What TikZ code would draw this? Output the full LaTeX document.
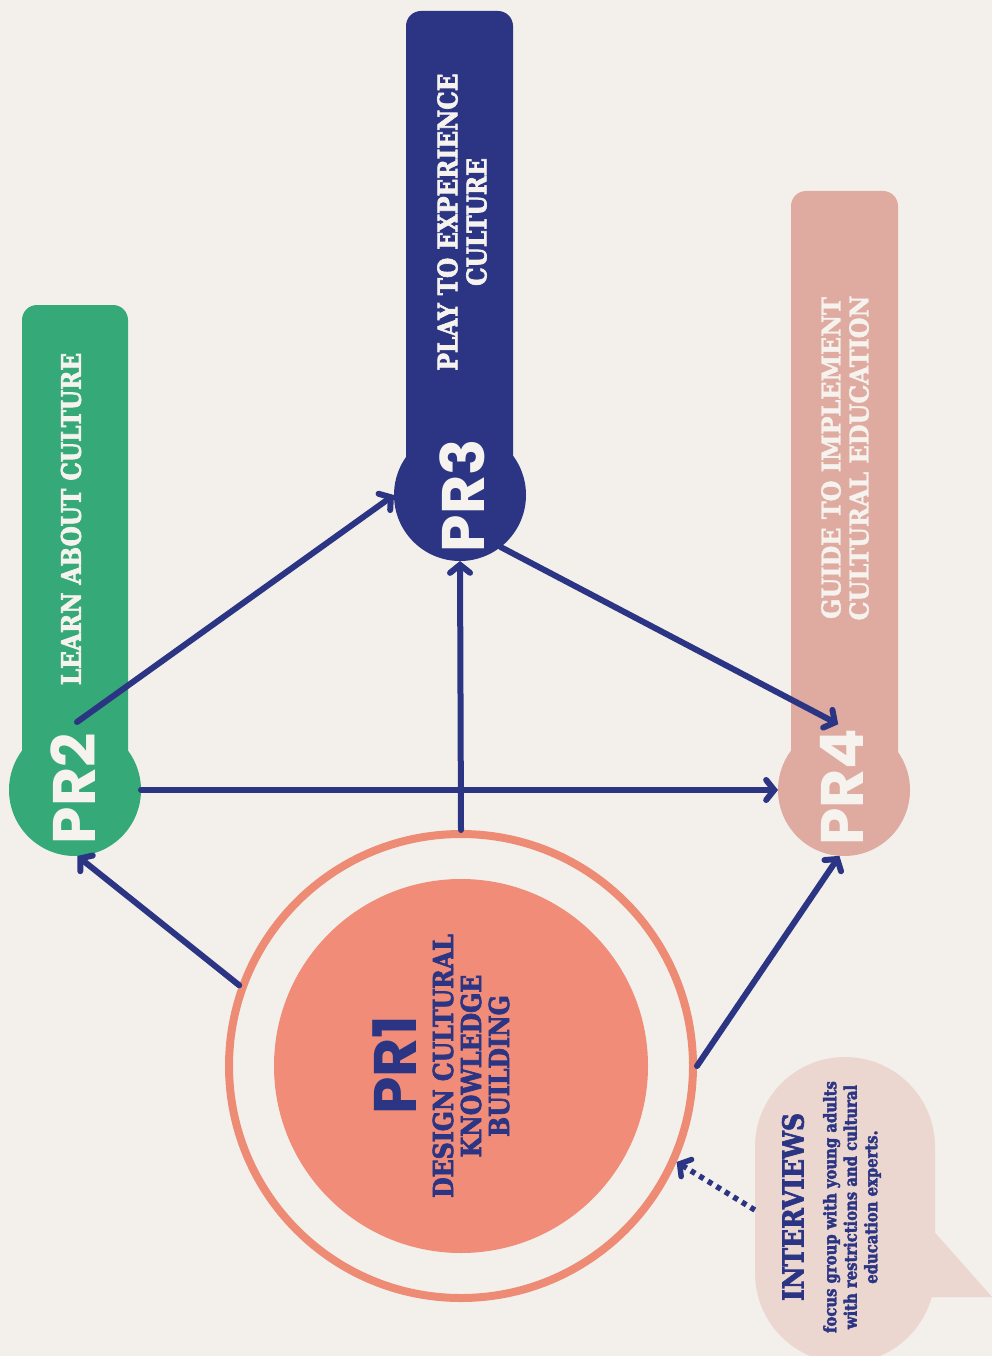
\documentclass[tikz,border=0pt]{standalone}
\usepackage{fontspec}
\usetikzlibrary{arrows.meta}
\newfontfamily\slab[FakeStretch=0.86, BoldFont={DejaVu Serif Bold}, BoldFeatures={FakeStretch=0.86, FakeBold=2.5}]{DejaVu Serif}
\newfontfamily\slabc[FakeStretch=0.92, BoldFont={DejaVu Serif Bold}, BoldFeatures={FakeStretch=0.92, FakeBold=1.5}]{DejaVu Serif}
\newfontfamily\pops{Poppins}
\definecolor{bg}{HTML}{F3F0EB}
\definecolor{navy}{HTML}{2B3583}
\definecolor{grn}{HTML}{35A978}
\definecolor{pnk}{HTML}{DFABA1}
\definecolor{salm}{HTML}{F08C77}
\definecolor{ring}{HTML}{EE8B75}
\definecolor{bubl}{HTML}{EBD6D0}
\definecolor{wht}{HTML}{F6F3EF}
\tikzset{
  prcirc/.style={circle, minimum size=132pt, inner sep=0pt, outer sep=0pt},
  bar/.style={rounded corners=15pt},
  prlabel/.style={rotate=90, inner sep=0pt, font=\pops\bfseries\fontsize{60}{60}\selectfont},
  title/.style={rotate=90, inner sep=0pt, align=center, text=wht, font=\slab\bfseries\fontsize{27}{29}\selectfont},
  arr/.style={draw=navy, line width=6pt, line cap=round, -{Straight Barb[length=8pt,width=20pt,line cap=round]}},
  dotarr/.style={draw=navy, line width=5.5pt, dash pattern=on 5pt off 5pt, -{Straight Barb[length=8pt,width=20pt,line cap=round]}}
}
\begin{document}
\begin{tikzpicture}[x=1pt,y=-1pt]
\fill[bg] (0,0) rectangle (992,1356);
\useasboundingbox (0,0) rectangle (992,1356);

% bars
\fill[grn, bar] (22,305) rectangle (128,790);
\fill[navy, bar] (406,11) rectangle (513,495);
\fill[pnk, bar] (791,191) rectangle (898,790);

% PR circles
\node[prcirc, fill=grn] (pr2) at (75,790) {};
\node[prcirc, fill=navy] (pr3) at (460,495) {};
\node[prcirc, fill=pnk] (pr4) at (844,790) {};

% PR1
\node[circle, draw=ring, line width=8pt, minimum size=464pt, inner sep=0pt, outer sep=4pt] (pr1o) at (461,1066) {};
\node[circle, fill=salm, minimum size=374pt, inner sep=0pt] (pr1) at (461,1066) {};

% bubble
\node[fill=bubl, rounded corners=90pt, minimum width=180pt, minimum height=306pt, inner sep=0pt] (bubble) at (845,1210) {};
\fill[bubl] (930,1227) -- (992,1297) -- (920,1297) -- cycle;

% arrows
\coordinate (pr2s) at (77,722);
\draw[arr] (pr2s) -- (pr3.west);
\draw[arr] (pr1o.north) -- (pr3.south);
\draw[arr] (pr3.-52) -- (pr4.95);
\draw[arr] (pr2.east) -- (pr4.west);
\draw[arr] (pr1o.160) -- (pr2.-88);
\draw[arr] (pr1o.east) -- (pr4.-94);
\draw[dotarr] (bubble.west) -- (pr1o.-24);

% labels
\node[prlabel, text=wht] (l2) at (73,789) {PR2};
\node[prlabel, text=wht] (l3) at (462,496) {PR3};
\node[prlabel, text=wht] (l4) at (842,787) {PR4};
\node[prlabel, text=navy] (l1) at (395,1065) {PR1};

\node[title] (t2) at (71,519) {LEARN ABOUT CULTURE};
\node[title] (t3) at (462,222) {PLAY TO EXPERIENCE\\CULTURE};
\node[title, font=\slabc\bfseries\fontsize{26}{28}\selectfont] (t4) at (845,458) {GUIDE TO IMPLEMENT\\CULTURAL EDUCATION};
\node[title, text=navy, font=\slab\bfseries\fontsize{27.5}{28}\selectfont] (t1) at (471,1066) {DESIGN CULTURAL\\KNOWLEDGE\\BUILDING};

\node[title, text=navy, font=\slab\bfseries\fontsize{29}{30}\selectfont] (iv) at (793,1207) {INTERVIEWS};
\node[title, text=navy, font=\slab\bfseries\fontsize{17.2}{20.5}\selectfont] (ivt) at (852,1207) {focus group with young adults\\with restrictions and cultural\\education experts.};
\end{tikzpicture}
\end{document}
